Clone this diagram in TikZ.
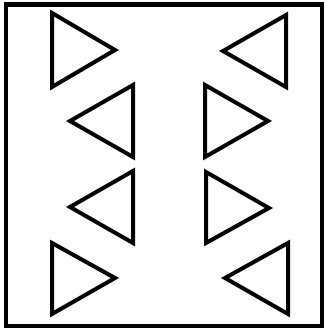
\documentclass[tikz,border=0pt]{standalone}
\begin{document}
\begin{tikzpicture}[x=1pt,y=-1pt,
  frame/.style={draw=black,line width=4.5pt},
  tri/.style={draw=black,line width=4pt,line join=miter}]
\useasboundingbox (0,0) rectangle (326,332);
\fill[white] (0,0) rectangle (326,332);
\draw[frame] (6,4.5) rectangle (322,326);
% left column
\draw[tri] (52,13) -- (115,50) -- (52,87) -- cycle;
\draw[tri] (133,85) -- (70,121) -- (133,157) -- cycle;
\draw[tri] (133,171) -- (70,207) -- (133,243) -- cycle;
\draw[tri] (52,243) -- (115,278) -- (52,314) -- cycle;
% right column
\draw[tri] (286,15) -- (223,51) -- (286,87) -- cycle;
\draw[tri] (205,85) -- (268,121) -- (205,157) -- cycle;
\draw[tri] (206,172) -- (269,208) -- (206,243) -- cycle;
\draw[tri] (288,243) -- (225,278) -- (288,314) -- cycle;
\end{tikzpicture}
\end{document}
